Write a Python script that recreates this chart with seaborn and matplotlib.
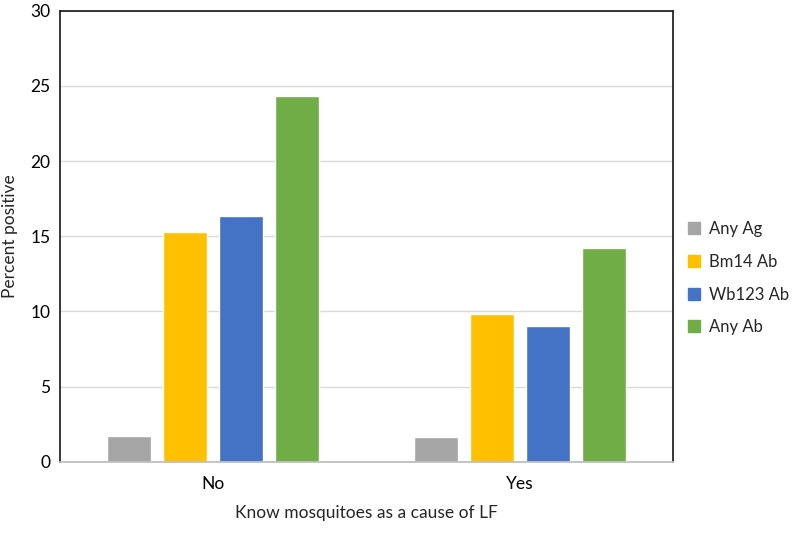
import matplotlib
matplotlib.use("Agg")
import matplotlib.pyplot as plt
from matplotlib.lines import Line2D
import seaborn as sns
import pandas as pd

categories = ["No", "Yes"]
series = ["Any Ag", "Bm14 Ab", "Wb123 Ab", "Any Ab"]
any_ag = [1.71, 1.66]
bm14_ab = [15.26, 9.85]
wb123_ab = [16.37, 9.03]
any_ab = [24.31, 14.22]
colors = ["#a5a5a5", "#ffc000", "#4472c4", "#70ad47"]

rows = []
for name, vals in zip(series, [any_ag, bm14_ab, wb123_ab, any_ab]):
    for c, v in zip(categories, vals):
        rows.append({"cat": c, "series": name, "value": v})
df = pd.DataFrame(rows)

sns.set_theme(style="white")
plt.rcParams["font.family"] = ["Lato", "DejaVu Sans"]

fig = plt.figure(figsize=(7.97, 5.33), dpi=100)
ax = fig.add_axes([0.0753, 0.1338, 0.7691, 0.8462])

sns.barplot(data=df, x="cat", y="value", hue="series", order=categories,
            hue_order=series, palette=colors, width=0.73, gap=0.21,
            saturation=1, ax=ax, legend=False)

ax.set_ylim(0, 30)
ax.set_yticks([0, 5, 10, 15, 20, 25, 30])
ax.yaxis.grid(True, color="#d9d9d9", linewidth=1)
ax.set_axisbelow(True)
for s in ["left", "top", "right"]:
    ax.spines[s].set_color("#262626")
    ax.spines[s].set_linewidth(1.3)
ax.spines["bottom"].set_color("#bfbfbf")
ax.spines["bottom"].set_linewidth(1.3)
ax.tick_params(axis="both", length=0, labelsize=12.5, colors="#000000", pad=7)
ax.tick_params(axis="x", pad=10)
ax.set_xlabel("Know mosquitoes as a cause of LF", fontsize=12.5, labelpad=10)
ax.set_ylabel("Percent positive", fontsize=12.5, labelpad=9)

handles = [Line2D([0], [0], marker="s", linestyle="none", markersize=8,
                  markerfacecolor=c, markeredgecolor=c) for c in colors]
fig.legend(handles, series, loc="center left", bbox_to_anchor=(0.863, 0.478),
           frameon=False, fontsize=12, handlelength=0.8, handletextpad=0.5,
           labelspacing=1.0, borderaxespad=0, borderpad=0)

fig.savefig("out.png", dpi=100)
